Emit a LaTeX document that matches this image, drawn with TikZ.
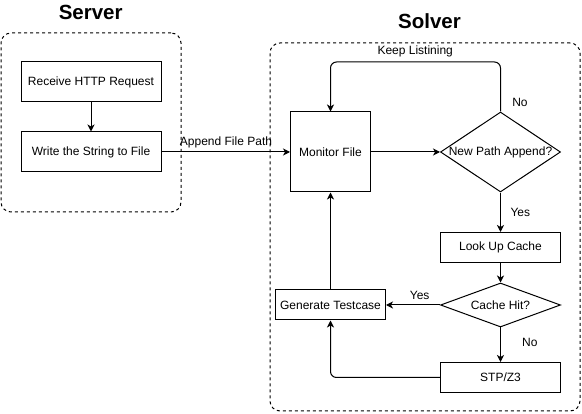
\documentclass[tikz,border=0pt]{standalone}
\usepackage{fontspec}
\setmainfont{Liberation Sans}
\usetikzlibrary{shapes.geometric,arrows.meta}
\begin{document}
\begin{tikzpicture}[x=1pt,y=-1pt,
  every node/.style={font=\fontsize{12}{14}\selectfont},
  container/.style={draw,line width=1pt,dash pattern=on 3pt off 3pt,rounded corners=10pt,inner sep=0pt},
  procbox/.style={draw,line width=1pt,inner sep=0pt,minimum width=#1},
  decision/.style={draw,line width=1pt,diamond,inner sep=0pt,minimum width=120pt},
  title/.style={font=\fontsize{20.5}{24}\selectfont\bfseries,anchor=base,inner sep=0pt},
  lbl/.style={anchor=base,inner sep=0pt},
  conn/.style={line width=1pt,-{Stealth[length=7pt,width=7pt,inset=2pt]}}
]
\useasboundingbox (0,0) rectangle (582,414);
% containers
\node[container,minimum width=180pt,minimum height=179pt] (server) at (91,122.5) {};
\node[container,minimum width=310pt,minimum height=368pt] (solver) at (425,227) {};
\node[title] (servertitle) at (90.7,20) {Server};
\node[title] (solvertitle) at (429.5,28.7) {Solver};
% server nodes
\node[procbox=140pt,minimum height=40pt] (rhr) at (91,82) {Receive HTTP Request};
\node[procbox=140pt,minimum height=40pt] (wsf) at (91,152) {Write the String to File};
% solver nodes
\node[procbox=80pt,minimum height=80pt] (mon) at (330.5,152) {Monitor File};
\node[decision,minimum height=80pt,aspect=1.5,label={center:New Path Append?}] (npa) at (500.5,152) {};
\node[procbox=120pt,minimum height=30pt] (luc) at (500.5,247.5) {Look Up Cache};
\node[decision,minimum height=44pt,aspect=2.727,label={center:Cache Hit?}] (chit) at (500.5,305) {};
\node[procbox=120pt,minimum height=30pt] (stp) at (500.5,377.5) {STP/Z3};
\node[procbox=110pt,minimum height=30pt] (gen) at (330.5,305) {Generate Testcase};
% connectors
\draw[conn] (rhr) -- (wsf);
\draw[conn] (wsf) -- (mon);
\draw[conn] (mon) -- (npa);
\draw[conn,rounded corners=6pt] (npa.north) -- (500.5,62) -- (330.5,62) -- (mon.north);
\draw[conn] (npa) -- (luc);
\draw[conn] (luc) -- (chit);
\draw[conn] (chit) -- (gen);
\draw[conn] (chit) -- (stp);
\draw[conn,rounded corners=6pt] (stp.west) -- (330.5,377.5) -- (gen.south);
\draw[conn] (gen) -- (mon);
% labels
\node[lbl] (lappend) at (226,146) {Append File Path};
\node[lbl] (lkeep) at (415.2,55) {Keep Listining};
\node[lbl] (lno1) at (520,107) {No};
\node[lbl] (lyes1) at (520.3,216.7) {Yes};
\node[lbl] (lyes2) at (419.7,300) {Yes};
\node[lbl] (lno2) at (529.8,346.7) {No};
\end{tikzpicture}
\end{document}
